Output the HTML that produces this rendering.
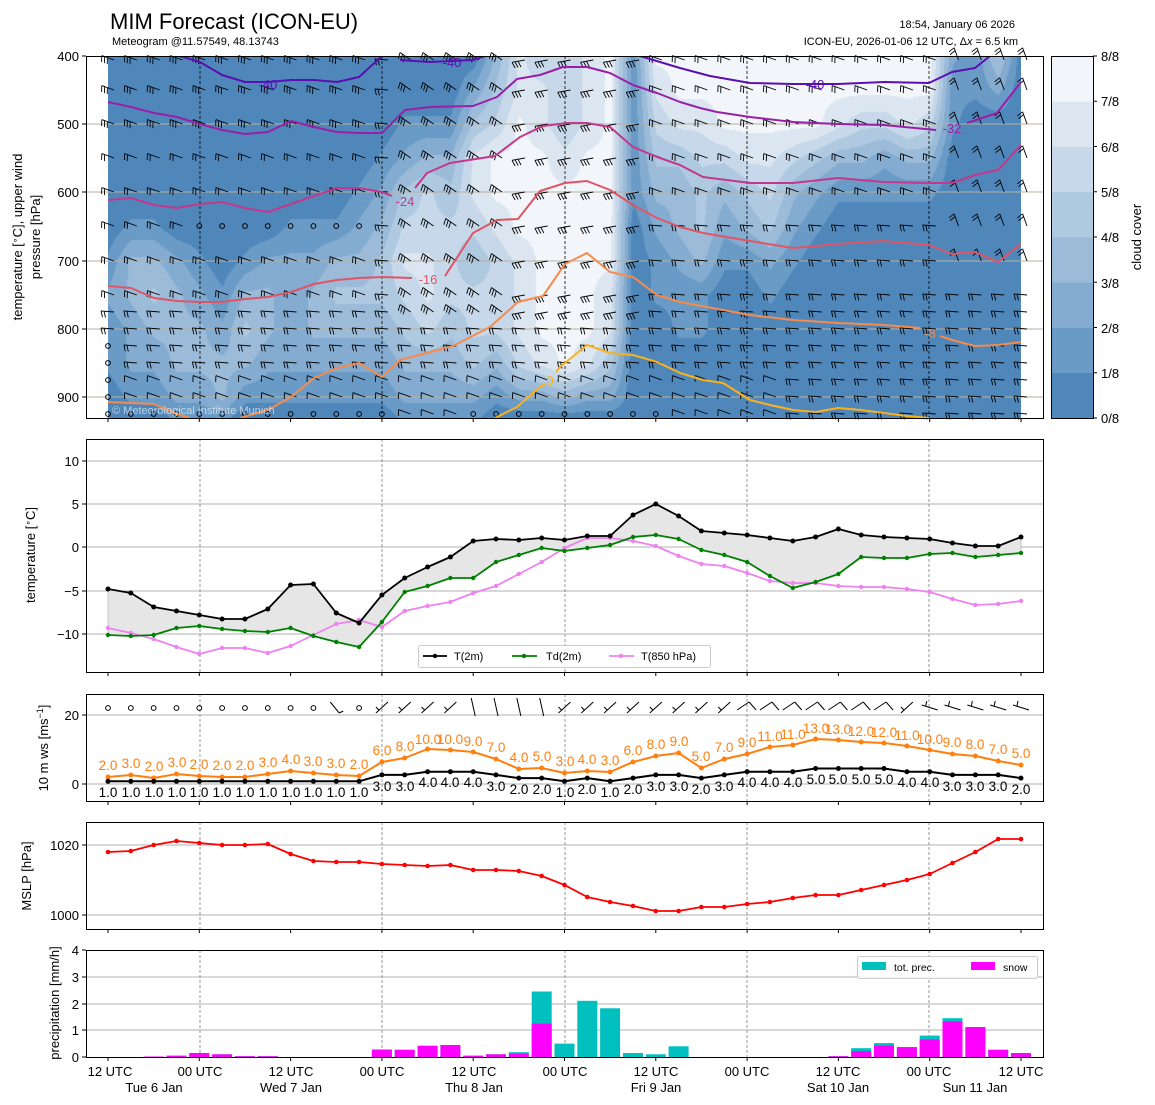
<!DOCTYPE html>
<html><head><meta charset="utf-8">
<style>
html,body{margin:0;padding:0;background:#fff;}
#wrap{position:relative;width:1155px;height:1105px;overflow:hidden;}
canvas{position:absolute;left:108px;top:56px;}
svg{position:absolute;left:0;top:0;}
text{font-family:"Liberation Sans","DejaVu Sans",sans-serif;}
</style></head><body>
<div id="wrap">
<canvas id="cv" width="913" height="362"></canvas>
<svg id="sv" width="1155" height="1105" viewBox="0 0 1155 1105">
<g id="dyn"></g>
<text x="110" y="29" font-size="22">MIM Forecast (ICON-EU)</text>
<text x="112" y="45" font-size="11">Meteogram @11.57549, 48.13743</text>
<text x="1015" y="28" font-size="11" text-anchor="end">18:54, January 06 2026</text>
<text x="1018" y="45" font-size="11" text-anchor="end">ICON-EU, 2026-01-06 12 UTC, Δ<tspan font-style="italic">x</tspan> = 6.5 km</text>
<text x="112" y="414" font-size="11" fill="#fff" fill-opacity="0.6">© Meteorological Institute Munich</text>
<text x="268" y="89" font-size="13" fill="#5a10b0" text-anchor="middle">-40</text>
<text x="452" y="67" font-size="13" fill="#5a10b0" text-anchor="middle">-40</text>
<text x="815" y="89" font-size="13" fill="#5a10b0" text-anchor="middle">-40</text>
<text x="952" y="133" font-size="13" fill="#9a1fa8" text-anchor="middle">-32</text>
<text x="405" y="206" font-size="13" fill="#c3388c" text-anchor="middle">-24</text>
<text x="428" y="284" font-size="13" fill="#e05566" text-anchor="middle">-16</text>
<text x="930" y="338" font-size="13" fill="#f58b4c" text-anchor="middle">-8</text>
<text x="550" y="385" font-size="13" fill="#f9b21e" text-anchor="middle">0</text>
<g font-size="13" text-anchor="end">
<text x="79" y="61">400</text><text x="79" y="129">500</text><text x="79" y="197">600</text>
<text x="79" y="266">700</text><text x="79" y="334">800</text><text x="79" y="402">900</text>
</g>
<text transform="translate(22,237) rotate(-90)" font-size="13" text-anchor="middle">temperature [<tspan font-size="9" dy="-4">∘</tspan><tspan dy="4">C], upper wind</tspan></text>
<text transform="translate(40,237) rotate(-90)" font-size="13" text-anchor="middle">pressure [hPa]</text>
<g font-size="13">
<text x="1101" y="61">8/8</text><text x="1101" y="106">7/8</text><text x="1101" y="152">6/8</text>
<text x="1101" y="197">5/8</text><text x="1101" y="242">4/8</text><text x="1101" y="288">3/8</text>
<text x="1101" y="333">2/8</text><text x="1101" y="378">1/8</text><text x="1101" y="423">0/8</text>
</g>
<text transform="translate(1141,237) rotate(-90)" font-size="13" text-anchor="middle">cloud cover</text>
<g font-size="13" text-anchor="end">
<text x="79" y="466">10</text><text x="79" y="509">5</text><text x="79" y="552">0</text>
<text x="79" y="596">−5</text><text x="79" y="639">−10</text>
</g>
<text transform="translate(35,555) rotate(-90)" font-size="13" text-anchor="middle">temperature [<tspan font-size="9" dy="-4">∘</tspan><tspan dy="4">C]</tspan></text>
<g font-size="11">
<text x="454" y="660">T(2m)</text><text x="546" y="660">Td(2m)</text><text x="641" y="660">T(850 hPa)</text>
</g>
<g font-size="13" text-anchor="end"><text x="79" y="720">20</text><text x="79" y="789">0</text></g>
<text transform="translate(48,748) rotate(-90)" font-size="13" text-anchor="middle">10 m ws [ms<tspan font-size="9" dy="-5">−1</tspan><tspan dy="5">]</tspan></text>
<g font-size="13.5" fill="#ff7f0e" text-anchor="middle">
<text x="108" y="770">2.0</text><text x="131" y="768">3.0</text><text x="154" y="771">2.0</text><text x="177" y="767">3.0</text>
<text x="199" y="769">2.0</text><text x="222" y="770">2.0</text><text x="245" y="770">2.0</text><text x="268" y="767">3.0</text>
<text x="291" y="764">4.0</text><text x="313" y="766">3.0</text><text x="336" y="768">3.0</text><text x="359" y="769">2.0</text>
<text x="382" y="755">6.0</text><text x="405" y="751">8.0</text><text x="428" y="744">10.0</text><text x="450" y="744">10.0</text>
<text x="473" y="746">9.0</text><text x="496" y="752">7.0</text><text x="519" y="762">4.0</text><text x="542" y="761">5.0</text>
<text x="565" y="766">3.0</text><text x="587" y="764">4.0</text><text x="610" y="765">3.0</text><text x="633" y="755">6.0</text>
<text x="656" y="749">8.0</text><text x="679" y="746">9.0</text><text x="701" y="761">5.0</text><text x="724" y="752">7.0</text>
<text x="747" y="747">9.0</text><text x="770" y="741">11.0</text><text x="793" y="739">11.0</text><text x="816" y="733">13.0</text>
<text x="838" y="734">13.0</text><text x="861" y="736">12.0</text><text x="884" y="737">12.0</text><text x="907" y="740">11.0</text>
<text x="930" y="744">10.0</text><text x="952" y="747">9.0</text><text x="975" y="749">8.0</text><text x="998" y="754">7.0</text>
<text x="1021" y="758">5.0</text>
</g>
<g font-size="13.5" fill="#000" text-anchor="middle">
<text x="108" y="797">1.0</text><text x="131" y="797">1.0</text><text x="154" y="797">1.0</text><text x="177" y="797">1.0</text>
<text x="199" y="797">1.0</text><text x="222" y="797">1.0</text><text x="245" y="797">1.0</text><text x="268" y="797">1.0</text>
<text x="291" y="797">1.0</text><text x="313" y="797">1.0</text><text x="336" y="797">1.0</text><text x="359" y="797">1.0</text>
<text x="382" y="791">3.0</text><text x="405" y="791">3.0</text><text x="428" y="787">4.0</text><text x="450" y="787">4.0</text>
<text x="473" y="787">4.0</text><text x="496" y="791">3.0</text><text x="519" y="794">2.0</text><text x="542" y="794">2.0</text>
<text x="565" y="797">1.0</text><text x="587" y="794">2.0</text><text x="610" y="797">1.0</text><text x="633" y="794">2.0</text>
<text x="656" y="791">3.0</text><text x="679" y="791">3.0</text><text x="701" y="794">2.0</text><text x="724" y="791">3.0</text>
<text x="747" y="787">4.0</text><text x="770" y="787">4.0</text><text x="793" y="787">4.0</text><text x="816" y="784">5.0</text>
<text x="838" y="784">5.0</text><text x="861" y="784">5.0</text><text x="884" y="784">5.0</text><text x="907" y="787">4.0</text>
<text x="930" y="787">4.0</text><text x="952" y="791">3.0</text><text x="975" y="791">3.0</text><text x="998" y="791">3.0</text>
<text x="1021" y="794">2.0</text>
</g>
<g font-size="13" text-anchor="end"><text x="79" y="850">1020</text><text x="79" y="920">1000</text></g>
<text transform="translate(31,876) rotate(-90)" font-size="13" text-anchor="middle">MSLP [hPa]</text>
<g font-size="13" text-anchor="end">
<text x="79" y="1062">0</text><text x="79" y="1035">1</text><text x="79" y="1009">2</text><text x="79" y="982">3</text><text x="79" y="955">4</text>
</g>
<text transform="translate(59,1003) rotate(-90)" font-size="13" text-anchor="middle">precipitation [mm/h]</text>
<g font-size="10.5"><text x="894" y="971">tot. prec.</text><text x="1003" y="971">snow</text></g>
<g font-size="13" text-anchor="middle">
<text x="110" y="1076">12 UTC</text><text x="200" y="1076">00 UTC</text><text x="291" y="1076">12 UTC</text>
<text x="382" y="1076">00 UTC</text><text x="474" y="1076">12 UTC</text><text x="565" y="1076">00 UTC</text>
<text x="656" y="1076">12 UTC</text><text x="747" y="1076">00 UTC</text><text x="838" y="1076">12 UTC</text>
<text x="929" y="1076">00 UTC</text><text x="1021" y="1076">12 UTC</text>
<text x="154" y="1092">Tue 6 Jan</text><text x="291" y="1092">Wed 7 Jan</text><text x="474" y="1092">Thu 8 Jan</text>
<text x="656" y="1092">Fri 9 Jan</text><text x="838" y="1092">Sat 10 Jan</text><text x="975" y="1092">Sun 11 Jan</text>
</g>
</svg>
</div>
<script>
var X=function(i){return 108+22.825*i;};
var G=[
"000000121100","000001332210","000001343210","000000233321","000000123321","000000012331",
"000000134310","000000233210","000001222210","000001233210","000001343210","000012343210",
"000123443210","001245654321","001355665321","001345554321","024665455421","345776555310",
"667777666520","566777777620","555677777730","666777777620","777777766420","111110000000",
"765432110000","776433211000","776544311000","777532100000","777643100000","777654210000",
"777532100000","777421000000","776310000000","775310000000","775210000000","776310000000",
"775310000000","211000000000","110000000000","420000000000","000000000000"];
var cols=['#5087bb','#6a9bc6','#84abd0','#9bbbd8','#afc9e1','#c6d8e9','#dce6f1','#f2f6fa'];
function hex(c){return [parseInt(c.substr(1,2),16),parseInt(c.substr(3,2),16),parseInt(c.substr(5,2),16)];}
var CR=cols.map(hex);
var cv=document.getElementById('cv'),ctx=cv.getContext('2d');
var W=913,H=362,img=ctx.createImageData(W,H);
function gv(i,r){i=Math.max(0,Math.min(40,i));return +G[i][r];}
for(var py=0;py<H;py++){
 var p=400+py/0.683,r,fr;
 if(p>=900){r=10;fr=Math.min(1,(p-900)/30);}else{r=Math.floor((p-400)/50);fr=((p-400)-r*50)/50;}
 for(var px=0;px<W;px++){
  var fx=px/22.825,i=Math.floor(fx),f=fx-i;
  var v=(gv(i,r)*(1-f)+gv(i+1,r)*f)*(1-fr)+(gv(i,r+1)*(1-f)+gv(i+1,r+1)*f)*fr;
  var L=Math.max(0,Math.min(7,Math.floor(v+0.25)));var c=CR[L];var k=(py*W+px)*4;
  img.data[k]=c[0];img.data[k+1]=c[1];img.data[k+2]=c[2];img.data[k+3]=255;}
}
ctx.putImageData(img,0,0);

var s='';
function pl(pts,col,w,extra){return '<polyline fill="none" stroke="'+col+'" stroke-width="'+w+'" stroke-linejoin="round" points="'+pts.map(function(p){return p[0]+','+p[1];}).join(' ')+'" '+(extra||'')+'/>';}
function line(x1,y1,x2,y2,c,w,d){return '<line x1="'+x1+'" y1="'+y1+'" x2="'+x2+'" y2="'+y2+'" stroke="'+c+'" stroke-width="'+w+'"'+(d?' stroke-dasharray="'+d+'"':'')+'/>';}
var days=[200,382,565,747,929];
[124,192,261,329,397].forEach(function(y){s+=line(86,y,1043,y,'#b8b0a0',1);});
days.forEach(function(x){s+=line(x,56,x,418,'#000',0.8,'3,2');});
function barb(x,y,a,n){var r=a*Math.PI/180,L=13;var ex=x+L*Math.cos(r),ey=y+L*Math.sin(r);
 var o='<line x1="'+x+'" y1="'+y+'" x2="'+ex.toFixed(1)+'" y2="'+ey.toFixed(1)+'" stroke="#000" stroke-width="0.9"/>';
 var pr=r-Math.PI/2*1.2;
 for(var k=0;k<n;k++){var bx=x+(L-k*3)*Math.cos(r),by=y+(L-k*3)*Math.sin(r);
  o+='<line x1="'+bx.toFixed(1)+'" y1="'+by.toFixed(1)+'" x2="'+(bx+6.5*Math.cos(pr)).toFixed(1)+'" y2="'+(by+6.5*Math.sin(pr)).toFixed(1)+'" stroke="#000" stroke-width="0.9"/>';}
 return o;}
function calm(x,y){return '<circle cx="'+x+'" cy="'+y+'" r="2.4" fill="none" stroke="#000" stroke-width="1"/>';}
var rows=[60,90,124,158,192,226,261,295,312,329,346,363,380,397,414];
for(var i=0;i<41;i++){for(var j=0;j<rows.length;j++){
 var x=X(i)-6,y=rows[j];
 if(i==0&&j>=10){s+=calm(X(i),y);continue;}
 if(j==14&&(i<=12||(i>=16&&i<=24))){s+=calm(X(i),y);continue;}
 if(j==5&&i>=4&&i<=11){s+=calm(X(i),y);continue;}
 var a,n;
 if(j<8&&i<12){a=200;n=j<3?3:2;}
 else if(i>=13&&i<=23&&j<9){a=i>=18?170:215;n=3;}
 else if(i>=24&&i<=36&&j<5){a=200;n=2;}
 else if(i>=37&&j<7){a=250;n=2;}
 else if(j>=12&&i<30){a=200;n=1;}
 else {a=185;n=2;}
 s+=barb(x+12,y,a,n);}}
var c40a=[[180,56],[200,62],[222,75],[245,82],[268,82],[291,80],[314,80],[337,82],[359,77],[382,56]];
var c40b=[[400,60],[430,62],[473,60],[485,56]];
var c40c=[[640,56],[680,68],[710,76],[750,83],[793,84],[838,84],[884,82],[929,83],[952,72],[975,68],[990,56]];
var c32=[[108,102],[131,107],[154,113],[177,117],[200,124],[222,130],[245,134],[268,132],[291,121],[314,127],[337,132],[359,133],[382,133],[405,110],[430,107],[473,106],[497,97],[517,79],[540,75],[563,67],[587,67],[610,73],[633,85],[657,93],[680,102],[700,108],[717,112],[750,117],[793,122],[838,124],[884,125],[936,130]];
var c32b=[[967,123],[997,113],[1021,82]];
var c24=[[108,200],[131,198],[154,205],[177,208],[200,204],[222,202],[245,208],[268,212],[291,204],[314,196],[337,188],[359,188],[382,192],[392,196]];
var c24b=[[415,188],[427,173],[450,163],[495,156],[520,137],[543,126],[567,123],[587,123],[610,127],[633,147],[657,157],[680,165],[703,177],[750,183],[793,183],[838,178],[884,182],[929,183],[952,183],[975,175],[998,170],[1021,145]];
var c16=[[108,286],[131,288],[154,298],[177,301],[200,302],[222,302],[245,299],[268,297],[291,292],[314,284],[337,280],[359,278],[382,277],[412,278]];
var c16b=[[445,276],[473,233],[497,220],[518,219],[540,191],[565,183],[587,181],[610,190],[633,205],[657,218],[680,227],[703,233],[750,241],[793,248],[838,244],[884,241],[929,245],[952,254],[975,252],[998,262],[1021,244]];
var c8=[[240,418],[268,410],[291,397],[314,378],[337,368],[359,363],[382,377],[400,360],[453,346],[490,327],[518,302],[543,296],[565,264],[587,253],[610,272],[633,277],[657,295],[680,302],[750,315],[793,320],[838,323],[884,325],[920,328]];
var c8b=[[940,336],[952,340],[975,346],[998,345],[1021,342]];
var c8c=[[108,402],[154,404],[177,414],[190,418]];
var c0=[[495,418],[517,407],[540,387],[545,384]];
var c0b=[[556,372],[560,367],[587,345],[610,353],[633,355],[657,362],[680,373],[703,380],[723,383],[750,400],[770,405],[793,410],[816,412],[838,408],[861,410],[884,413],[907,416],[929,418]];
s+='<g clip-path="url(#cp1)">';
[c40a,c40b,c40c].forEach(function(c){s+=pl(c,'#5a10b0',2);});
[c32,c32b].forEach(function(c){s+=pl(c,'#9a1fa8',2);});
[c24,c24b].forEach(function(c){s+=pl(c,'#c3388c',2);});
[c16,c16b].forEach(function(c){s+=pl(c,'#e05566',2);});
[c8,c8b,c8c].forEach(function(c){s+=pl(c,'#f58b4c',2);});
[c0,c0b].forEach(function(c){s+=pl(c,'#f9b21e',2);});
s+='</g>';
s='<defs><clipPath id="cp1"><rect x="108" y="56" width="913" height="362"/></clipPath></defs>'+s;
for(var k=0;k<8;k++){var y0=418-(k+1)*45.25;s+='<rect x="1051" y="'+y0.toFixed(1)+'" width="42" height="45.6" fill="'+cols[k]+'"/>';}
s+='<rect x="1051.5" y="56.5" width="42" height="362" fill="none" stroke="#000"/>';
for(var k=0;k<9;k++){var y=418-k*45.25;s+=line(1093,y,1097,y,'#000',1);}
[56,124,192,261,329,397].forEach(function(y){s+=line(82,y,86,y,'#000',1);});
function panel(y0,y1,hl,yt){
 hl.forEach(function(y){s+=line(86,y,1043,y,'#b0b0b0',1);});
 days.forEach(function(x){s+=line(x,y0,x,y1,'#808080',0.8,'3,2');});
 yt.forEach(function(y){s+=line(82,y,86,y,'#000',1);});
}
var ticksX=[];for(var k=0;k<11;k++)ticksX.push(108+91.3*k);
panel(439,672,[461,504,547,591,634],[461,504,547,591,634]);
panel(694,801,[715,784],[715,784]);
panel(822,929,[845,915],[845,915]);
panel(950,1057,[977,1004,1030],[950,977,1004,1030,1057]);
var T=[589,593,607,611,615,619,619,609,585,584,613,623,595,578,567,557,541,539,540,538,540,536,536,515,504,516,531,533,535,538,541,537,529,535,537,538,539,543,546,546,537];
var Td=[635,636,635,628,626,629,631,632,628,636,642,647,622,592,586,578,578,562,555,548,551,548,545,537,535,539,550,555,562,576,588,582,574,557,558,558,554,553,557,555,553];
var T8=[628,633,639,647,654,648,648,653,646,635,624,620,627,611,606,602,593,586,574,562,548,538,538,541,546,556,564,566,573,581,583,583,586,587,587,589,592,599,605,604,601];
function pts(a){return a.map(function(v,i){return [X(i).toFixed(1),v];});}
var poly=pts(T).concat(pts(Td).reverse());
s+='<polygon points="'+poly.map(function(p){return p.join(',');}).join(' ')+'" fill="#e6e6e6" stroke="#999" stroke-width="0.5"/>';
function series(a,c,w,r){var o=pl(pts(a),c,w);a.forEach(function(v,i){o+='<circle cx="'+X(i).toFixed(1)+'" cy="'+v+'" r="'+r+'" fill="'+c+'"/>';});return o;}
s+=series(T8,'#ee82ee',1.8,2.2)+series(Td,'#008000',1.8,2.2)+series(T,'#000',1.8,2.5);
s+='<rect x="418.5" y="645.5" width="292" height="22" rx="2" fill="#fff" fill-opacity="0.85" stroke="#ccc"/>';
s+=line(423,656,447,656,'#000',1.8)+'<circle cx="435" cy="656" r="2.2"/>';
s+=line(512,656,537,656,'#008000',1.8)+'<circle cx="524" cy="656" r="2.2" fill="#008000"/>';
s+=line(609,656,634,656,'#ee82ee',1.8)+'<circle cx="621" cy="656" r="2.2" fill="#ee82ee"/>';
var G3=[777,775,778,774,776,777,777,774,771,773,775,776,762,758,749,750,752,759,769,768,773,771,772,762,756,753,768,759,754,747,745,739,740,742,743,746,750,754,756,761,765];
var bv=[1,1,1,1,1,1,1,1,1,1,1,1,3,3,4,4,4,3,2,2,1,2,1,2,3,3,2,3,4,4,4,5,5,5,5,4,4,3,3,3,2];
var B3=bv.map(function(v){return 784-3.2*v+0.5;});
s+=series(G3,'#ff7f0e',2,2.5)+series(B3,'#000',2,2.5);
for(var i=0;i<41;i++){var x=X(i),y=708;
 if(i<=9||i==11){s+=calm(x,y);}
 else if(i==10){s+=line(x-6,y-6,x+3,y+5,'#000',1)+line(x+3,y+5,x+7,y+3,'#000',1);}
 else if(i>=16&&i<=19){s+=line(x-2,y-10,x+2,y+8,'#000',1);}
 else if(i>=28&&i<=34){s+=line(x-10,y+2,x+2,y-6,'#000',1)+line(x+2,y-6,x+9,y+2,'#000',1);}
 else if(i>=36){s+=line(x-8,y-3,x+8,y+2,'#000',1)+line(x-4,y-2,x-3,y-7,'#000',1);}
 else {s+=line(x-6,y+5,x+6,y-6,'#000',1)+line(x-3,y+2,x-6,y-1,'#000',1);}}
var M=[852,851,845,841,843,845,845,844,854,861,862,862,864,865,866,865,870,870,871,876,885,897,902,906,911,911,907,907,904,902,898,895,895,890,885,880,874,863,852,839,839];
s+=series(M,'#ff0000',1.8,2.3);
var tot={2:0.02,3:0.05,4:0.15,5:0.1,6:0.03,7:0.03,12:0.28,13:0.27,14:0.42,15:0.45,16:0.05,17:0.1,18:0.18,19:2.45,20:0.5,21:2.1,22:1.82,23:0.15,24:0.1,25:0.4,32:0.03,33:0.33,34:0.52,35:0.37,36:0.8,37:1.45,38:1.12,39:0.27,40:0.15};
var snow={2:0.02,3:0.05,4:0.15,5:0.1,6:0.03,7:0.03,12:0.28,13:0.27,14:0.42,15:0.45,16:0.05,17:0.1,18:0.13,19:1.25,32:0.03,33:0.22,34:0.43,35:0.37,36:0.65,37:1.33,38:1.12,39:0.27,40:0.15};
for(var k in tot){var x=X(+k)-10,h=tot[k]*26.75;s+='<rect x="'+x.toFixed(1)+'" y="'+(1057-h).toFixed(1)+'" width="20" height="'+h.toFixed(1)+'" fill="#00bfbf"/>';}
for(var k in snow){var x=X(+k)-10,h=snow[k]*26.75;s+='<rect x="'+x.toFixed(1)+'" y="'+(1057-h).toFixed(1)+'" width="20" height="'+h.toFixed(1)+'" fill="#ff00ff"/>';}
s+='<rect x="857.5" y="956.5" width="180" height="22" rx="2" fill="#fff" fill-opacity="0.85" stroke="#ccc"/>';
s+='<rect x="862" y="962" width="24" height="8" fill="#00bfbf"/><rect x="971" y="962" width="24" height="8" fill="#ff00ff"/>';
[[439,672],[694,801],[822,929],[950,1057],[56,418]].forEach(function(b){
 s+='<rect x="86.5" y="'+(b[0]+0.5)+'" width="957" height="'+(b[1]-b[0])+'" fill="none" stroke="#000" stroke-width="1"/>';
 ticksX.forEach(function(x){s+=line(x,b[1],x,b[1]+4,'#000',1);});});
document.getElementById('dyn').innerHTML=s;
</script>
</body></html>
